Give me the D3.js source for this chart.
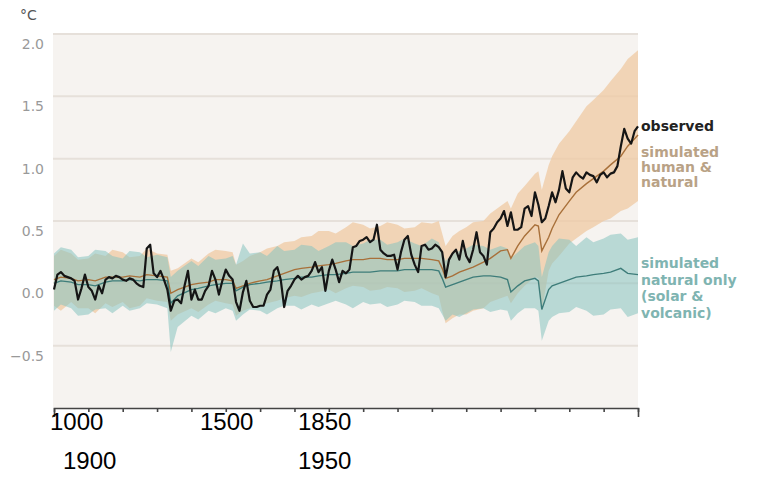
<!DOCTYPE html>
<html>
<head>
<meta charset="utf-8">
<script src="https://cdn.jsdelivr.net/npm/d3@7"></script>
<style>
  body { margin: 0; background: #fff; }
  svg { display: block; }
</style>
</head>
<body>
<div id="chart"></div>
<script>
// Observed annual values, 1850 .. 2020 (one per year)
const obsStart = 1850;
const observed = [
  -0.05, 0.07, 0.09, 0.06, 0.05, 0.04, 0.02, -0.13, -0.04, 0.07,
  -0.03, -0.06, -0.13, -0.02, -0.08, 0.03, 0.05, 0.04, 0.06, 0.05,
  0.03, 0.02, 0.04, 0.03, 0.00, -0.02, -0.03, 0.28, 0.31, 0.08,
  0.05, 0.10, 0.03, -0.05, -0.22, -0.14, -0.13, -0.16, -0.02, 0.10,
  -0.13, -0.05, -0.13, -0.13, -0.06, -0.02, 0.10, 0.03, -0.09, 0.02,
  0.11, 0.06, 0.03, -0.15, -0.22, -0.07, 0.02, -0.14, -0.19, -0.19,
  -0.18, -0.18, -0.09, -0.05, 0.10, 0.13, 0.03, -0.19, -0.06, -0.02,
  0.03, 0.06, 0.03, 0.05, 0.06, 0.10, 0.17, 0.09, 0.13, -0.06,
  0.10, 0.19, 0.11, 0.01, 0.10, 0.08, 0.11, 0.29, 0.30, 0.34,
  0.35, 0.37, 0.33, 0.35, 0.47, 0.27, 0.24, 0.22, 0.22, 0.23,
  0.11, 0.25, 0.35, 0.38, 0.23, 0.15, 0.09, 0.30, 0.31, 0.27,
  0.28, 0.31, 0.29, 0.25, 0.05, 0.19, 0.24, 0.27, 0.19, 0.34,
  0.22, 0.17, 0.27, 0.41, 0.25, 0.22, 0.15, 0.41, 0.44, 0.49,
  0.52, 0.58, 0.46, 0.57, 0.43, 0.43, 0.45, 0.60, 0.62, 0.54,
  0.73, 0.63, 0.49, 0.52, 0.62, 0.73, 0.65, 0.75, 0.90, 0.76,
  0.73, 0.85, 0.89, 0.86, 0.84, 0.89, 0.87, 0.86, 0.81, 0.87,
  0.89, 0.85, 0.88, 0.89, 0.94, 1.10, 1.24, 1.16, 1.12, 1.22,
  1.26
];

// Simulated series, sampled years
const simYears = [
  1850, 1852, 1855, 1857, 1860, 1862, 1865, 1867, 1870, 1872,
  1875, 1877, 1880, 1883, 1884, 1886, 1890, 1892, 1895, 1897,
  1900, 1902, 1903, 1905, 1907, 1910, 1912, 1915, 1917, 1920,
  1922, 1925, 1927, 1930, 1932, 1935, 1937, 1940, 1942, 1945,
  1947, 1950, 1952, 1955, 1957, 1960, 1962, 1963, 1964, 1966,
  1968, 1970, 1972, 1975, 1977, 1980, 1982, 1983, 1985, 1987,
  1990, 1991, 1992, 1994, 1995, 1997, 2000, 2002, 2005, 2007,
  2010, 2012, 2015, 2017, 2020
];

const humanMean = [
  0.03, 0.05, 0.04, 0.02, 0.03, 0.02, 0.05, 0.05, 0.05, 0.06,
  0.05, 0.07, 0.06, 0.05, -0.08, -0.05, -0.01, 0.00, 0.01, 0.03,
  0.03, 0.02, -0.04, -0.02, 0.00, 0.02, 0.03, 0.06, 0.08, 0.11,
  0.12, 0.13, 0.14, 0.15, 0.16, 0.18, 0.19, 0.19, 0.20, 0.20,
  0.19, 0.19, 0.20, 0.20, 0.20, 0.19, 0.18, 0.12, 0.04, 0.06,
  0.09, 0.11, 0.13, 0.17, 0.20, 0.26, 0.27, 0.20, 0.30, 0.38,
  0.47, 0.46, 0.26, 0.37, 0.44, 0.55, 0.66, 0.73, 0.80, 0.84,
  0.90, 0.95, 1.02, 1.10, 1.19
];
const humanUpper = [
  0.22, 0.27, 0.24, 0.19, 0.20, 0.24, 0.22, 0.27, 0.25, 0.21,
  0.22, 0.28, 0.24, 0.23, 0.10, 0.12, 0.20, 0.17, 0.24, 0.27,
  0.26, 0.25, 0.15, 0.18, 0.22, 0.25, 0.28, 0.30, 0.33, 0.34,
  0.37, 0.38, 0.42, 0.42, 0.40, 0.45, 0.49, 0.47, 0.44, 0.46,
  0.49, 0.47, 0.44, 0.45, 0.49, 0.48, 0.50, 0.40, 0.30, 0.38,
  0.42, 0.45, 0.49, 0.50, 0.56, 0.62, 0.66, 0.60, 0.72, 0.78,
  0.88, 0.90, 0.75, 0.95, 1.02, 1.12, 1.22, 1.30, 1.42, 1.47,
  1.55, 1.62, 1.72, 1.80, 1.87
];
const humanLower = [
  -0.18, -0.22, -0.15, -0.20, -0.20, -0.24, -0.16, -0.19, -0.15, -0.20,
  -0.18, -0.12, -0.14, -0.15, -0.30, -0.25, -0.20, -0.23, -0.17, -0.14,
  -0.16, -0.17, -0.26, -0.22, -0.20, -0.18, -0.16, -0.14, -0.12, -0.10,
  -0.11, -0.08, -0.07, -0.05, -0.08, -0.04, -0.02, -0.03, -0.06, -0.05,
  -0.03, -0.04, -0.07, -0.06, -0.04, -0.08, -0.10, -0.22, -0.32, -0.28,
  -0.25, -0.25, -0.22, -0.20, -0.15, -0.12, -0.10, -0.16, -0.08, -0.02,
  0.05, 0.04, -0.22, 0.10, 0.16, 0.22, 0.32, 0.36, 0.42, 0.45,
  0.50, 0.52, 0.58, 0.60, 0.66
];

const naturalMean = [
  0.00, 0.02, 0.01, -0.01, -0.01, -0.02, 0.01, 0.02, 0.02, 0.03,
  0.02, 0.03, 0.03, 0.02, -0.16, -0.10, -0.05, -0.04, -0.02, -0.01,
  0.00, 0.00, -0.06, -0.03, -0.01, 0.00, 0.01, 0.02, 0.03, 0.04,
  0.05, 0.05, 0.06, 0.07, 0.07, 0.08, 0.09, 0.09, 0.09, 0.10,
  0.10, 0.10, 0.11, 0.11, 0.11, 0.11, 0.10, 0.04, -0.03, -0.01,
  0.01, 0.03, 0.05, 0.06, 0.06, 0.05, 0.03, -0.07, -0.02, 0.02,
  0.04, 0.02, -0.21, -0.05, -0.02, 0.00, 0.03, 0.05, 0.06, 0.07,
  0.08, 0.09, 0.12, 0.08, 0.07
];
const naturalUpper = [
  0.24, 0.29, 0.27, 0.21, 0.22, 0.27, 0.26, 0.22, 0.20, 0.26,
  0.25, 0.21, 0.23, 0.21, 0.05, 0.10, 0.18, 0.14, 0.22, 0.19,
  0.20, 0.22, 0.15, 0.32, 0.24, 0.25, 0.22, 0.30, 0.26, 0.27,
  0.31, 0.30, 0.26, 0.30, 0.33, 0.33, 0.30, 0.32, 0.35, 0.35,
  0.31, 0.33, 0.36, 0.32, 0.30, 0.36, 0.33, 0.25, 0.18, 0.24,
  0.26, 0.28, 0.31, 0.30, 0.27, 0.30, 0.28, 0.20, 0.25, 0.30,
  0.33, 0.30, 0.05, 0.25, 0.30, 0.36, 0.35, 0.30, 0.37, 0.33,
  0.36, 0.39, 0.40, 0.35, 0.37
];
const naturalLower = [
  -0.22, -0.17, -0.20, -0.26, -0.25, -0.21, -0.20, -0.24, -0.18, -0.22,
  -0.20, -0.16, -0.17, -0.20, -0.55, -0.35, -0.26, -0.29, -0.22, -0.24,
  -0.20, -0.22, -0.30, -0.25, -0.21, -0.22, -0.25, -0.20, -0.18, -0.18,
  -0.21, -0.17, -0.19, -0.16, -0.14, -0.17, -0.20, -0.15, -0.17, -0.16,
  -0.19, -0.17, -0.14, -0.15, -0.18, -0.18, -0.20, -0.25, -0.30, -0.25,
  -0.27, -0.24, -0.21, -0.20, -0.23, -0.21, -0.22, -0.30, -0.24, -0.20,
  -0.20, -0.22, -0.46, -0.30, -0.27, -0.24, -0.23, -0.19, -0.22, -0.26,
  -0.25, -0.21, -0.20, -0.27, -0.24
];

const yTicks = [2.0, 1.5, 1.0, 0.5, 0.0, -0.5];
const xTickYears = d3.range(1850, 2021, 10);
const xLabelRows = [["1000", "1500", "1850"], ["1900", "1950"]];
const legendObserved = "observed";
const legendHuman = ["simulated", "human &", "natural"];
const legendNatural = ["simulated", "natural only", "(solar &", "volcanic)"];

const W = 765, H = 499;
const svg = d3.select("#chart").append("svg")
    .attr("width", W)
    .attr("height", H);

const x = d3.scaleLinear().domain([1850, 2020]).range([54, 638]);
const y = d3.scaleLinear().domain([-1, 2]).range([408, 34]);

// plot background
svg.append("rect")
    .attr("x", x(1850) - 1)
    .attr("y", y(2))
    .attr("width", x(2020) - x(1850) + 1)
    .attr("height", y(-1) - y(2))
    .attr("fill", "#f6f3f0");

// gridlines
svg.append("g")
  .selectAll("line")
  .data(yTicks)
  .enter().append("line")
    .attr("x1", x(1850) - 1)
    .attr("x2", x(2020))
    .attr("y1", d => y(d))
    .attr("y2", d => y(d))
    .attr("stroke", "#e6e0da")
    .attr("stroke-width", 2);

// y labels
svg.append("g")
    .attr("transform", "translate(44,10)")
    .call(d3.axisLeft(y).tickValues(yTicks).tickSize(0).tickPadding(0)
      .tickFormat(d3.format(".1f")))
    .call(g => g.select(".domain").remove())
    .call(g => g.selectAll("text")
      .attr("fill", "#999")
      .style("font-family", "DejaVu Sans")
      .style("font-size", "14px"));

svg.append("text")
    .attr("x", 20)
    .attr("y", 20)
    .attr("fill", "#555")
    .style("font-family", "DejaVu Sans")
    .style("font-size", "14px")
    .text("°C");

const sim = simYears.map((yr, i) => ({
  year: yr,
  hm: humanMean[i], hu: humanUpper[i], hl: humanLower[i],
  nm: naturalMean[i], nu: naturalUpper[i], nl: naturalLower[i]
}));

// bands
svg.append("path")
    .datum(sim)
    .attr("fill", "#efc9a3")
    .attr("fill-opacity", 0.75)
    .attr("d", d3.area().x(d => x(d.year)).y0(d => y(d.hl)).y1(d => y(d.hu)));

svg.append("path")
    .datum(sim)
    .attr("fill", "#86c2c0")
    .attr("fill-opacity", 0.55)
    .attr("d", d3.area().x(d => x(d.year)).y0(d => y(d.nl)).y1(d => y(d.nu)));

// simulated means
svg.append("path")
    .datum(sim)
    .attr("fill", "none")
    .attr("stroke", "#a8703a")
    .attr("stroke-width", 1.4)
    .attr("d", d3.line().x(d => x(d.year)).y(d => y(d.hm)));

svg.append("path")
    .datum(sim)
    .attr("fill", "none")
    .attr("stroke", "#3e7d7a")
    .attr("stroke-width", 1.4)
    .attr("d", d3.line().x(d => x(d.year)).y(d => y(d.nm)));

// observed
svg.append("path")
    .datum(observed)
    .attr("fill", "none")
    .attr("stroke", "#151515")
    .attr("stroke-width", 2.2)
    .attr("stroke-linejoin", "round")
    .attr("d", d3.line().x((d, i) => x(obsStart + i)).y(d => y(d)));

// x axis
svg.append("g")
    .attr("transform", `translate(0,${y(-1)})`)
    .call(d3.axisBottom(x).tickValues(xTickYears).tickSizeInner(4).tickSizeOuter(9)
      .tickFormat(""))
    .call(g => g.selectAll("path, line").attr("stroke", "#444").attr("stroke-width", 1.6));

// the odd year labels under the axis
const labelX = [[50, 200, 298], [63, 298]];
const labelY = [430, 469];
xLabelRows.forEach((row, r) => {
  svg.append("g")
    .selectAll("text")
    .data(row)
    .enter().append("text")
      .attr("x", (d, i) => labelX[r][i])
      .attr("y", labelY[r])
      .attr("fill", "#000")
      .style("font-family", "Liberation Sans")
      .style("font-size", "24px")
      .text(d => d);
});

// legend
svg.append("text")
    .attr("x", 641)
    .attr("y", 131)
    .attr("fill", "#222")
    .style("font-family", "DejaVu Sans")
    .style("font-weight", "bold")
    .style("font-size", "14px")
    .text(legendObserved);

svg.append("g")
  .selectAll("text")
  .data(legendHuman)
  .enter().append("text")
    .attr("x", 641)
    .attr("y", (d, i) => 157 + i * 15)
    .attr("fill", "#b9a286")
    .style("font-family", "DejaVu Sans")
    .style("font-weight", "bold")
    .style("font-size", "14px")
    .text(d => d);

svg.append("g")
  .selectAll("text")
  .data(legendNatural)
  .enter().append("text")
    .attr("x", 641)
    .attr("y", (d, i) => 268 + i * 16.5)
    .attr("fill", "#7fb4b1")
    .style("font-family", "DejaVu Sans")
    .style("font-weight", "bold")
    .style("font-size", "14px")
    .text(d => d);
</script>
</body>
</html>
